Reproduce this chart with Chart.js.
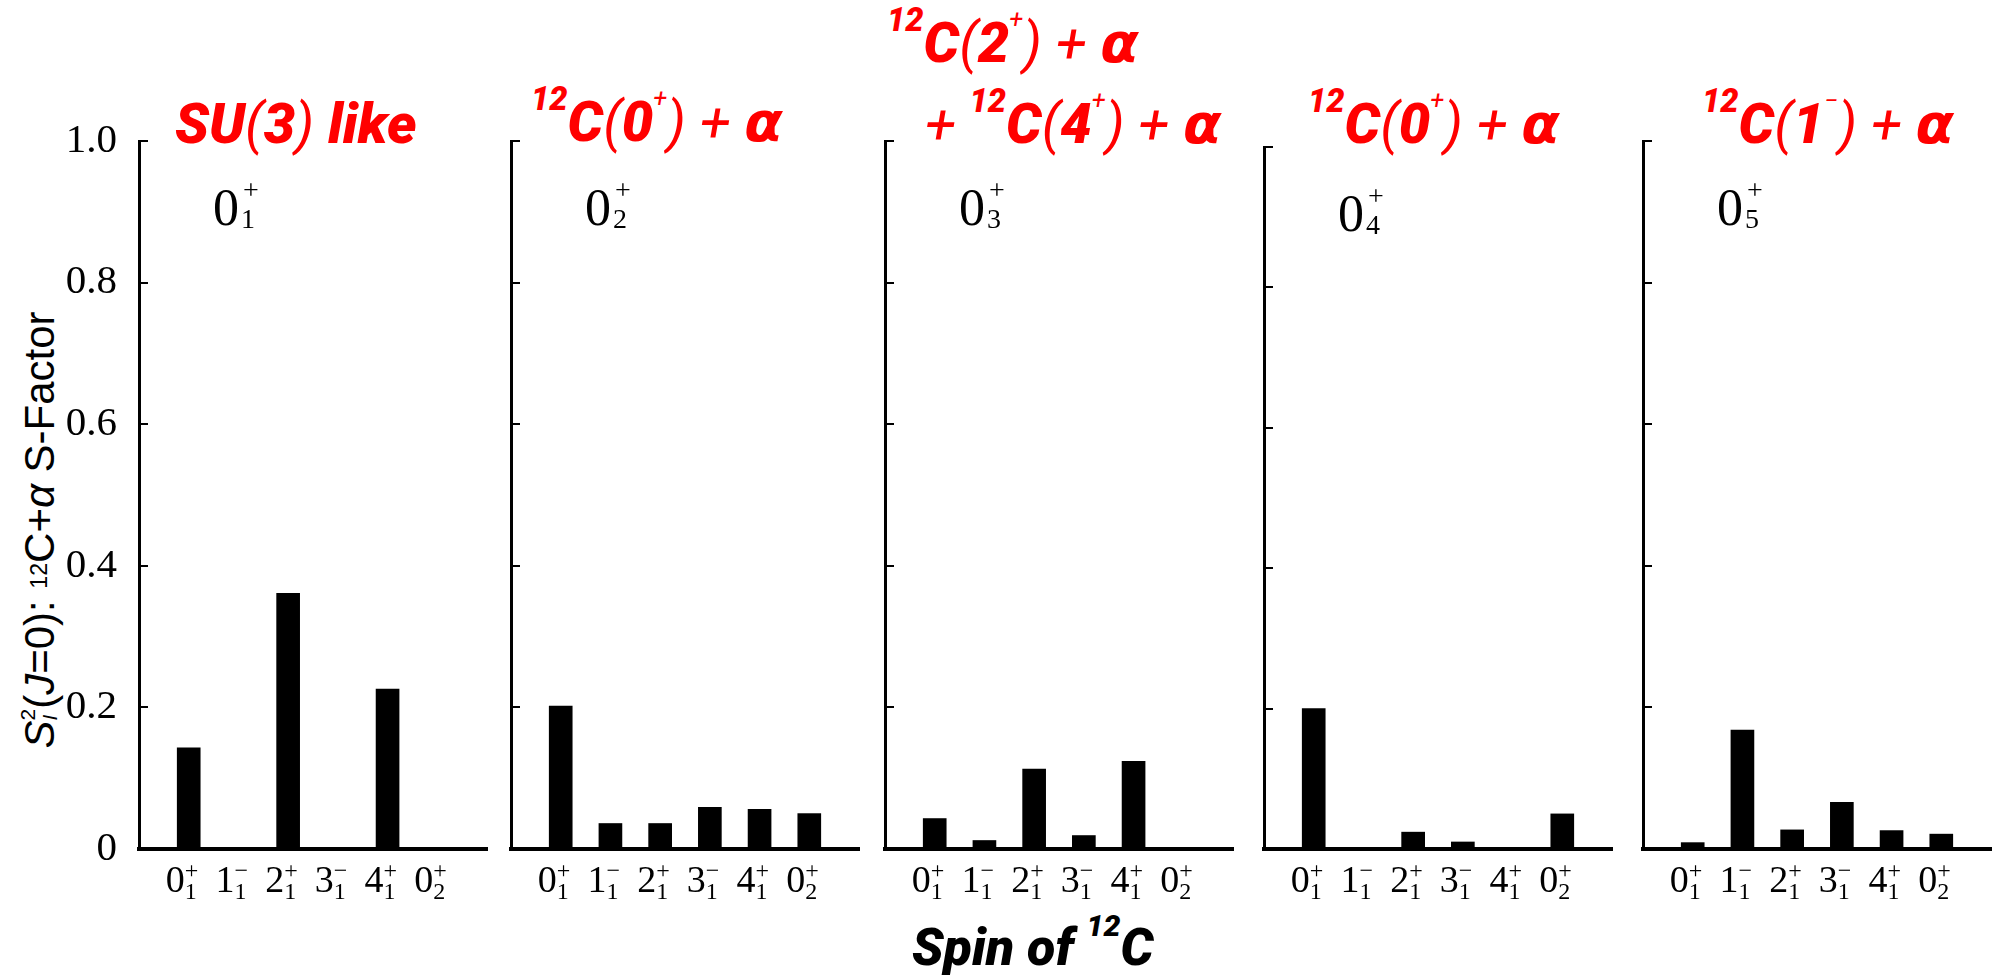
<!DOCTYPE html>
<html>
<head>
<meta charset="utf-8">
<script src="https://cdn.jsdelivr.net/npm/chart.js@4.4.0/dist/chart.umd.min.js"></script>
<style>
  html, body { margin: 0; padding: 0; background: #fff; }
  body { width: 1992px; height: 975px; position: relative; overflow: hidden; }
  canvas.panel { position: absolute; top: 0; }
  .ttl { position: absolute; color: #f00; font: italic 900 56px "Roboto", "Liberation Sans", sans-serif; line-height: 1; white-space: nowrap; }
  .ttl .sp { font-size: 0.58em; position: relative; top: -0.95em; }
  .ttl .sp2 { font-size: 0.45em; position: relative; top: -1.35em; font-weight: 400; }
  .ttl .thin { font-weight: 400; }
  .ttl .gr { font-family: "DejaVu Sans", sans-serif; font-weight: 700; }
  .xtitle { color: #000; font-size: 52px; }
  .ytitle { position: absolute; left: 39px; top: 530px; transform: translate(-50%, -50%) rotate(-90deg);
            font: 42px "Liberation Sans", sans-serif; line-height: 1; white-space: nowrap; color: #000; }
  .ytitle .stk { display: inline-flex; flex-direction: column; font-size: 0.5em; line-height: 1.05; vertical-align: 0.9em; }
  .ytitle .tiny { font-size: 0.55em; position: relative; top: -0.3em; }
</style>
</head>
<body>

<div class="ytitle"><i>S</i><span class="stk"><span>2</span><span><i>I</i></span></span>(<i>J</i>=0): <span class="tiny">12</span>C+<i>α</i> S-Factor</div>

<div class="ttl" style="left:175px; top:96px;">SU<span class="thin">(</span>3<span class="thin">)</span> like</div>
<div class="ttl" style="left:531px; top:94px;"><span class="sp">12</span>C<span class="thin">(</span>0<span class="sp2">+</span><span class="thin">) + </span><span class="gr">α</span></div>
<div class="ttl" style="left:887px; top:15px;"><span class="sp">12</span>C<span class="thin">(</span>2<span class="sp2">+</span><span class="thin">) + </span><span class="gr">α</span></div>
<div class="ttl" style="left:925px; top:96px;"><span class="thin">+ </span><span class="sp">12</span>C<span class="thin">(</span>4<span class="sp2">+</span><span class="thin">) + </span><span class="gr">α</span></div>
<div class="ttl" style="left:1308px; top:96px;"><span class="sp">12</span>C<span class="thin">(</span>0<span class="sp2">+</span><span class="thin">) + </span><span class="gr">α</span></div>
<div class="ttl" style="left:1702px; top:96px;"><span class="sp">12</span>C<span class="thin">(</span>1<span class="sp2">−</span><span class="thin">) + </span><span class="gr">α</span></div>

<div class="ttl xtitle" style="left:912px; top:922px;">Spin of <span class="sp">12</span>C</div>

<script>
// 12C core states along the x axis: spin, parity, index
const coreSpin   = ['0', '1', '2', '3', '4', '0'];
const coreParity = ['+', '−', '+', '−', '+', '+'];
const coreIndex  = ['1', '1', '1', '1', '1', '2'];
const corePos    = [1, 2, 3, 4, 5, 6];

// 16O 0+ states, one panel each
const stateIndex = ['1', '2', '3', '4', '5'];

// 12C+alpha S-factors of each 0+ state, per core state
const sf01 = [0.143, 0, 0.361, 0, 0.226, 0];
const sf02 = [0.202, 0.036, 0.036, 0.059, 0.056, 0.050];
const sf03 = [0.043, 0.012, 0.113, 0.019, 0.124, 0];
const sf04 = [0.200, 0, 0.024, 0.010, 0, 0.050];
const sf05 = [0.009, 0.168, 0.027, 0.066, 0.026, 0.021];

const yTicks = [0, 0.2, 0.4, 0.6, 0.8, 1.0];
const yTickLabels = ['0', '0.2', '0.4', '0.6', '0.8', '1.0'];

// panel geometry (page pixels)
const axisLeft = [139, 511, 885, 1264, 1643];
const axisTop = [141, 141, 141, 147, 141];
const axisBottom = 849;
const axisWidth = 348;
const PAD = 135;
const H = 975;

// spin labels under each bar and the 0+_n tag in the corner
const spinLabels = {
    id: 'spinLabels',
    afterDraw(chart, args, opts) {
        const ctx = chart.ctx;
        const xs = chart.scales.x;
        const area = chart.chartArea;
        ctx.save();
        ctx.fillStyle = '#000';
        ctx.textBaseline = 'alphabetic';
        corePos.forEach((pos, k) => {
            const px = xs.getPixelForValue(pos);
            ctx.font = '38px "Liberation Serif"';
            ctx.textAlign = 'right';
            ctx.fillText(coreSpin[k], px - 4, 892);
            ctx.font = '24px "Liberation Serif"';
            ctx.textAlign = 'left';
            ctx.fillText(coreParity[k], px - 4, 878);
            ctx.fillText(coreIndex[k], px - 4, 899);
        });

        const lx = area.left + 74;
        const ly = area.top + 84;
        ctx.textAlign = 'left';
        ctx.font = '52px "Liberation Serif"';
        ctx.fillText('0', lx, ly);
        const dw = ctx.measureText('0').width;
        ctx.font = '28px "Liberation Serif"';
        ctx.fillText('+', lx + dw + 4, ly - 26);
        ctx.fillText(stateIndex[opts.panel], lx + dw + 2, ly + 3);
        ctx.restore();
    }
};

function makePanel(i, values) {
    const canvas = document.createElement('canvas');
    const w = PAD + axisWidth + 6;
    canvas.className = 'panel';
    canvas.width = w;
    canvas.height = H;
    canvas.style.left = (axisLeft[i] - PAD) + 'px';
    document.body.appendChild(canvas);

    new Chart(canvas, {
        type: 'bar',
        data: {
            datasets: [{
                data: values.map((v, k) => ({ x: corePos[k], y: v })),
                backgroundColor: '#000',
                borderWidth: 0,
                barThickness: 23
            }]
        },
        options: {
            responsive: false,
            animation: false,
            devicePixelRatio: 1,
            layout: { padding: { left: 0, right: 6, top: axisTop[i], bottom: H - axisBottom } },
            plugins: {
                legend: { display: false },
                tooltip: { enabled: false },
                spinLabels: { panel: i }
            },
            scales: {
                x: {
                    type: 'linear',
                    min: 0,
                    max: 7,
                    offset: false,
                    grid: { display: false },
                    ticks: { display: false },
                    border: { display: true, color: '#000', width: 4 },
                    afterFit: s => { s.height = 0; }
                },
                y: {
                    min: 0,
                    max: 1,
                    afterBuildTicks: s => { s.ticks = yTicks.map(v => ({ value: v })); },
                    grid: { drawOnChartArea: false, drawTicks: true, tickLength: -9, color: '#000', lineWidth: 2 },
                    border: { display: true, color: '#000', width: 3 },
                    ticks: {
                        display: i === 0,
                        padding: 31,
                        color: '#000',
                        font: { family: '"Liberation Serif"', size: 41 },
                        callback: (v, k) => yTickLabels[k]
                    },
                    afterFit: s => { s.width = PAD; }
                }
            }
        },
        plugins: [spinLabels]
    });
}

[sf01, sf02, sf03, sf04, sf05].forEach((vals, i) => makePanel(i, vals));
</script>
</body>
</html>
